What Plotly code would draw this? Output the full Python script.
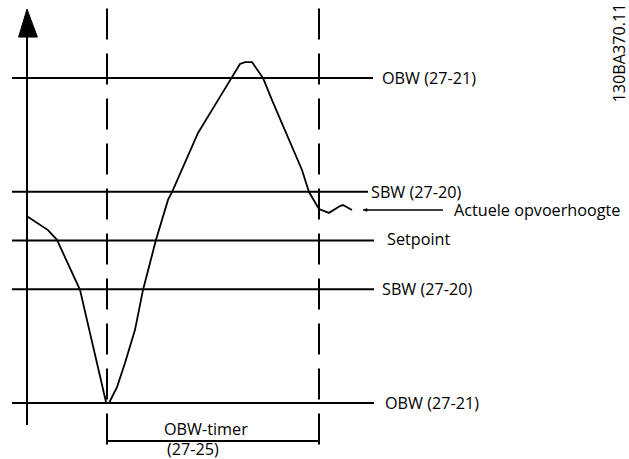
import plotly.graph_objects as go

# ---- data (schematic units: time along x, level along y) ----
time = [0, 10.5, 15, 26.5, 30, 39.5, 40, 41, 45, 49, 54, 58, 64.5, 70.5, 72.5,
        85.5, 95.5, 102.5, 106.5, 109, 112.5, 118, 122.5, 137.5, 141, 146, 151,
        156.5, 158, 162.5]
level = [57.5, 53.2, 50.2, 34.8, 25.5, 0.3, 0, 0, 4.9, 12.3, 22.5, 34.8, 50.2, 62.5,
         64.9, 83.1, 93.2, 100, 104.3, 104.9, 104.9, 100, 93.2, 71.7, 64.9, 59.7,
         58.5, 60.6, 60.9, 59.4]

band_names = ["OBW (27-21)", "SBW (27-20)", "Setpoint", "SBW (27-20)", "OBW (27-21)"]
band_levels = [100, 65, 50, 35, 0]
timer_events = [40, 146]
timer_label = ["OBW-timer", "(27-25)"]
actual_label = "Actuele opvoerhoogte"
doc_code = "130BA370.11"

# ---- layout helpers (positions/styles) ----
FONT = dict(family="Open Sans", size=16.2, color="black")
line_start = -7.5
line_ends = [173, 170.5, 173.5, 173.5, 173.5]
label_x = [176.5, 170.8, 179, 176.5, 178]
label_dy = [0, 0, 0.6, 0, 0]

fig = go.Figure()
fig.add_trace(go.Scatter(x=time, y=level, mode="lines",
                         line=dict(color="black", width=1.8), hoverinfo="skip",
                         showlegend=False))

shapes = []
for lv, xe in zip(band_levels, line_ends):
    shapes.append(dict(type="line", x0=line_start, x1=xe, y0=lv, y1=lv,
                       line=dict(color="black", width=2)))
shapes.append(dict(type="line", x0=0, x1=0, y0=112.6, y1=-6.8,
                   line=dict(color="black", width=2)))
shapes.append(dict(type="path", path="M -4.2,112.6 L 0,121.2 L 5.2,112.6 Z",
                   fillcolor="black", line=dict(color="black", width=1)))
for t in timer_events:
    shapes.append(dict(type="line", x0=t, x1=t, y0=121.4, y1=-13.8,
                       line=dict(color="black", width=2, dash="31px,14px")))
shapes.append(dict(type="line", x0=timer_events[0], x1=timer_events[1],
                   y0=-11.7, y1=-11.7, line=dict(color="black", width=2)))
shapes.append(dict(type="line", x0=169, x1=208, y0=59.4, y1=59.4,
                   line=dict(color="black", width=1.6)))
shapes.append(dict(type="path", path="M 168,59.4 L 170,59.0 L 170,59.8 Z",
                   fillcolor="black", line=dict(color="black", width=0.8)))

annotations = []
for name, lv, lx, dy in zip(band_names, band_levels, label_x, label_dy):
    annotations.append(dict(x=lx, y=lv + dy, text=name, showarrow=False,
                            xanchor="left", yanchor="middle", font=FONT))
annotations.append(dict(x=212.5, y=59.4, text=actual_label, showarrow=False,
                        xanchor="left", yanchor="middle", font=FONT))
annotations.append(dict(x=89.5, y=-8.0, text=timer_label[0], showarrow=False,
                        xanchor="center", yanchor="middle", font=FONT))
annotations.append(dict(x=69, y=-14.2, text=timer_label[1], showarrow=False,
                        xanchor="left", yanchor="middle", font=FONT))
annotations.append(dict(x=295.75, y=107.7, text=doc_code, showarrow=False, textangle=-90,
                        xanchor="center", yanchor="middle", font=FONT))

fig.update_layout(
    width=629, height=459, autosize=False,
    margin=dict(l=0, r=0, t=0, b=0, pad=0),
    paper_bgcolor="white", plot_bgcolor="white",
    xaxis=dict(range=[-13.5, 301], visible=False, fixedrange=True),
    yaxis=dict(range=[-17.23, 124.0], visible=False, fixedrange=True),
    shapes=shapes, annotations=annotations, showlegend=False,
)

fig.write_html("out.html", config={"displayModeBar": False},
               post_script="document.body.style.margin='0';"
                           "document.body.style.overflow='hidden';")
